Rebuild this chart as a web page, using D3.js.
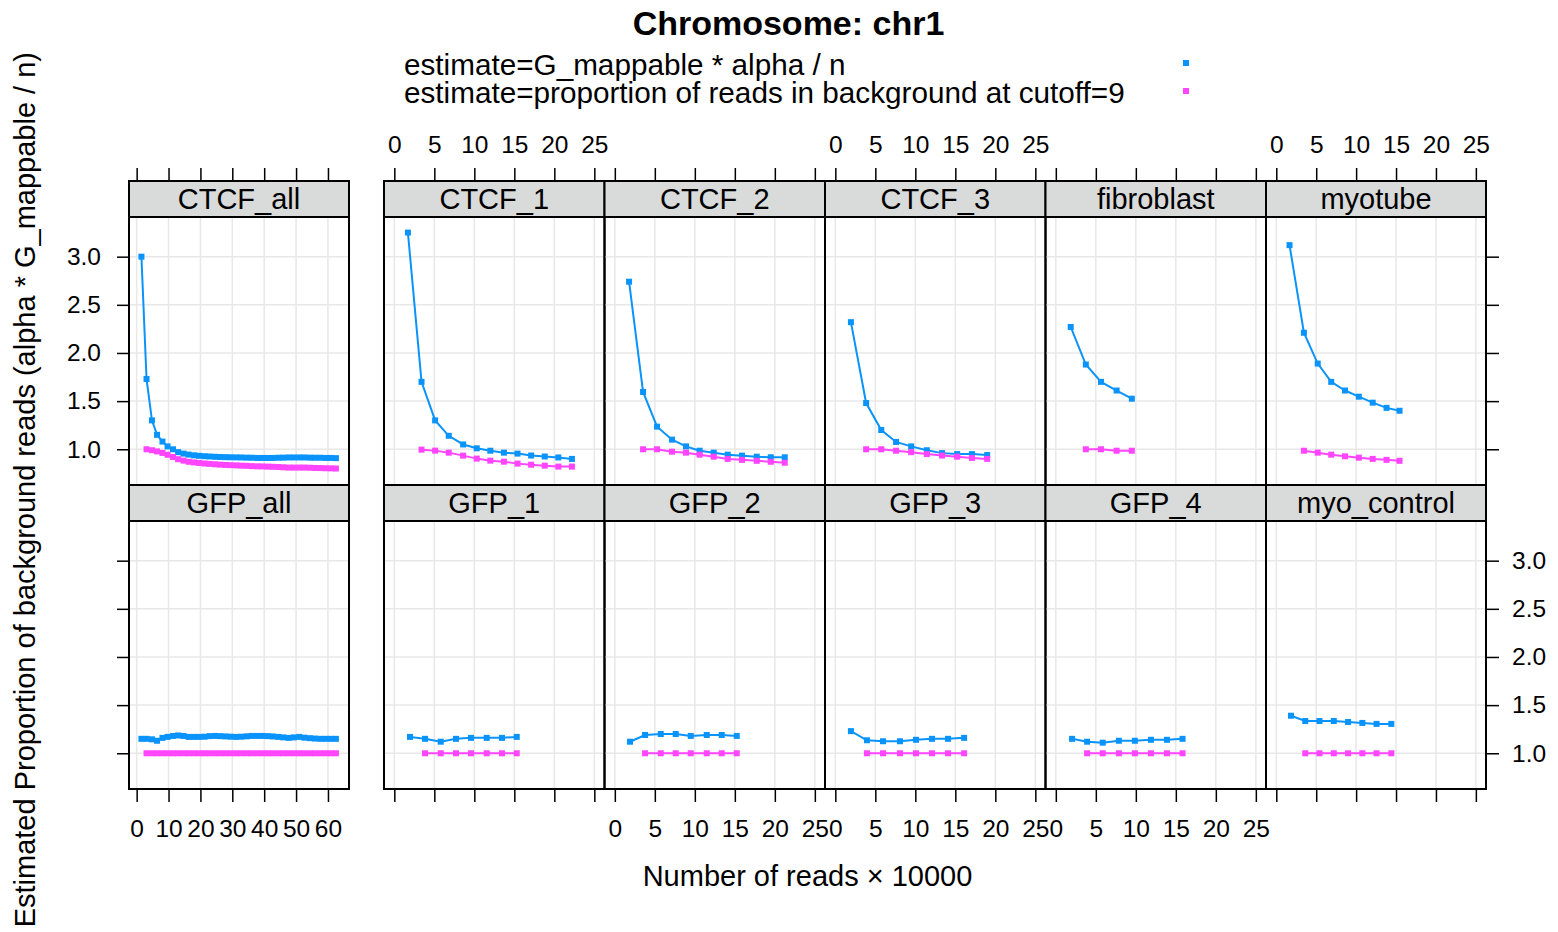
<!DOCTYPE html>
<html>
<head>
<meta charset="utf-8">
<script src="https://cdn.jsdelivr.net/npm/d3@7"></script>
<style>
  body { margin: 0; background: #fff; }
  svg { display: block; font-family: 'Liberation Sans', Arial, Helvetica, sans-serif; }
</style>
</head>
<body>
<svg id="chart" width="1558" height="932"></svg>
<script>
// panels in lattice order: top row then bottom row
const panelNames = [
  'CTCF_all', 'CTCF_1', 'CTCF_2', 'CTCF_3', 'fibroblast', 'myotube',
  'GFP_all', 'GFP_1', 'GFP_2', 'GFP_3', 'GFP_4', 'myo_control'
]

// number of reads (x 10000) for each panel
const allX = [1.5, 3.1, 4.8, 6.4, 8.1, 9.7, 11.4, 13.0, 14.7, 16.3, 18.0, 19.6, 21.3, 22.9,
  24.6, 26.2, 27.9, 29.5, 31.2, 32.8, 34.5, 36.1, 37.8, 39.4, 41.1, 42.7, 44.4, 46.0, 47.7,
  49.3, 51.0, 52.6, 54.3, 55.9, 57.6, 59.2, 60.9, 62.5]
const readsX = [
  allX,
  [1.7, 3.4, 5.1, 6.8, 8.6, 10.3, 12.0, 13.7, 15.4, 17.1, 18.8, 20.5, 22.2],
  [1.78, 3.53, 5.28, 7.15, 8.9, 10.6, 12.36, 14.11, 15.9, 17.74, 19.49, 21.24],
  [1.95, 3.85, 5.74, 7.59, 9.48, 11.44, 13.34, 15.23, 17.08, 18.98],
  [1.86, 3.75, 5.65, 7.6, 9.5],
  [1.66, 3.46, 5.19, 6.88, 8.61, 10.34, 12.08, 13.81, 15.44],
  allX,
  [1.96, 3.84, 5.8, 7.71, 9.59, 11.55, 13.46, 15.3],
  [1.9, 3.78, 5.74, 7.61, 9.49, 11.49, 13.36, 15.24],
  [1.95, 3.95, 5.96, 8.08, 10.08, 12.09, 14.09, 16.1],
  [2.03, 3.91, 5.86, 7.88, 9.88, 11.89, 13.89, 15.84],
  [1.84, 3.63, 5.41, 7.2, 8.99, 10.78, 12.56, 14.41]
]

// estimate = G_mappable * alpha / n  (one value per x)
const alphaEstimate = [
  [3.00, 1.73, 1.30, 1.15, 1.08, 1.03, 1.00, 0.97, 0.955, 0.945, 0.937, 0.932, 0.928, 0.925,
    0.922, 0.92, 0.918, 0.917, 0.916, 0.915, 0.913, 0.912, 0.91, 0.91, 0.91, 0.91, 0.912, 0.913,
    0.915, 0.915, 0.915, 0.915, 0.913, 0.912, 0.912, 0.91, 0.91, 0.908],
  [3.25, 1.70, 1.30, 1.14, 1.05, 1.01, 0.985, 0.965, 0.955, 0.935, 0.925, 0.915, 0.90],
  [2.74, 1.595, 1.235, 1.10, 1.03, 0.985, 0.965, 0.944, 0.934, 0.923, 0.917, 0.917],
  [2.32, 1.48, 1.20, 1.076, 1.03, 0.99, 0.96, 0.95, 0.95, 0.94],
  [2.27, 1.88, 1.70, 1.61, 1.525],
  [3.12, 2.21, 1.89, 1.70, 1.61, 1.546, 1.484, 1.43, 1.40],
  [1.15, 1.15, 1.145, 1.13, 1.16, 1.17, 1.18, 1.185, 1.18, 1.17, 1.17, 1.17, 1.172, 1.178,
    1.18, 1.178, 1.175, 1.172, 1.17, 1.172, 1.176, 1.18, 1.18, 1.18, 1.178, 1.175, 1.17, 1.165,
    1.16, 1.165, 1.17, 1.162, 1.157, 1.153, 1.15, 1.15, 1.15, 1.15],
  [1.17, 1.15, 1.12, 1.15, 1.16, 1.16, 1.16, 1.17],
  [1.12, 1.19, 1.20, 1.20, 1.18, 1.19, 1.19, 1.18],
  [1.23, 1.135, 1.125, 1.125, 1.14, 1.15, 1.15, 1.16],
  [1.15, 1.12, 1.11, 1.13, 1.13, 1.14, 1.14, 1.15],
  [1.39, 1.335, 1.335, 1.335, 1.325, 1.315, 1.305, 1.305]
]

// estimate = proportion of reads in background at cutoff=9 (starts at the 2nd x)
const backgroundEstimate = [
  [1.00, 0.99, 0.978, 0.962, 0.943, 0.92, 0.897, 0.882, 0.87, 0.863, 0.858, 0.852, 0.848, 0.844,
    0.84, 0.837, 0.835, 0.833, 0.83, 0.828, 0.825, 0.823, 0.822, 0.82, 0.818, 0.816, 0.813,
    0.81, 0.81, 0.81, 0.81, 0.808, 0.806, 0.805, 0.803, 0.802, 0.80],
  [0.996, 0.986, 0.965, 0.934, 0.903, 0.882, 0.871, 0.851, 0.84, 0.83, 0.82, 0.82],
  [1.0, 1.0, 0.975, 0.965, 0.944, 0.923, 0.90, 0.89, 0.88, 0.87, 0.86],
  [1.0, 1.0, 0.985, 0.97, 0.95, 0.935, 0.923, 0.91, 0.90],
  [1.0, 1.0, 0.985, 0.985],
  [0.985, 0.965, 0.944, 0.927, 0.913, 0.90, 0.89, 0.88],
  [1, 1, 1, 1, 1, 1, 1, 1, 1, 1, 1, 1, 1, 1, 1, 1, 1, 1, 1, 1, 1, 1, 1, 1, 1, 1, 1, 1, 1, 1,
    1, 1, 1, 1, 1, 1, 1],
  [1, 1, 1, 1, 1, 1, 1],
  [1, 1, 1, 1, 1, 1, 1],
  [1, 1, 1, 1, 1, 1, 1],
  [1, 1, 1, 1, 1, 1, 1],
  [1, 1, 1, 1, 1, 1, 1]
]

const xTicksAll = [0, 10, 20, 30, 40, 50, 60]
const xTicksSample = [0, 5, 10, 15, 20, 25]
const yTicks = [1.0, 1.5, 2.0, 2.5, 3.0]
const legendLabels = [
  'estimate=G_mappable * alpha / n',
  'estimate=proportion of reads in background at cutoff=9'
]
const seriesColors = ['#0a94fb', '#ff45ff']

const svg = d3.select('#chart')
svg.append('rect').attr('width', 1558).attr('height', 932).attr('fill', '#fff')

// layout (lattice-like)
const colLeft = [129, 384, 604.5, 825, 1045.5, 1266]
const colWidth = [220, 220.5, 220.5, 220.5, 220.5, 220]
const stripTop = [181, 485]
const stripH = 36
const panelH = 268
const tickLen = 13
const gridColor = '#e8e8e8'

const tickFont = 24.5
const labelFont = 29

// title and key
svg.append('text')
  .attr('x', 788.5).attr('y', 35)
  .attr('text-anchor', 'middle')
  .attr('font-size', 34).attr('font-weight', 'bold')
  .text('Chromosome: chr1')

// both key lines in one text so they stack tightly like the original
const keyText = svg.append('text')
  .attr('font-size', 29.7)
legendLabels.forEach((label, i) => {
  keyText.append('tspan')
    .attr('x', 404).attr('y', 75 + i * 28)
    .text(label)
  svg.append('rect')
    .attr('x', 1183).attr('y', 60 + i * 28)
    .attr('width', 6).attr('height', 6)
    .attr('fill', seriesColors[i])
})

// axis titles
svg.append('text')
  .attr('x', 807.5).attr('y', 886)
  .attr('text-anchor', 'middle')
  .attr('font-size', labelFont)
  .text('Number of reads \u00d7 10000')

// kept just inside the page so the whole label stays readable
svg.append('text')
  .attr('transform', 'translate(35,52) rotate(-90)')
  .attr('text-anchor', 'end')
  .attr('font-size', 29)
  .text('Estimated Proportion of background reads (alpha * G_mappable / n)')

function styleAxis (g) {
  g.select('.domain').remove()
  g.selectAll('.tick line').attr('stroke', '#000').attr('stroke-width', 1.5)
  g.selectAll('.tick text')
    .attr('fill', '#000')
    .attr('font-size', tickFont)
    .attr('font-family', "'Liberation Sans', Arial, sans-serif")
}

panelNames.forEach((name, i) => {
  const row = Math.floor(i / 6)
  const col = i % 6
  const left = colLeft[col]
  const width = colWidth[col]
  const top = stripTop[row] + stripH
  const bottom = top + panelH

  const x = d3.scaleLinear()
    .domain(col === 0 ? [-2.4, 66.6] : [-1.29, 26.27])
    .range([left, left + width])
  const y = d3.scaleLinear()
    .domain([0.629, 3.412])
    .range([bottom, top])
  const xTicks = col === 0 ? xTicksAll : xTicksSample

  const g = svg.append('g')

  // grid
  g.selectAll('.vgrid').data(xTicks).join('line')
    .attr('x1', d => x(d)).attr('x2', d => x(d))
    .attr('y1', top).attr('y2', bottom)
    .attr('stroke', gridColor).attr('stroke-width', 1.5)
  g.selectAll('.hgrid').data(yTicks).join('line')
    .attr('x1', left).attr('x2', left + width)
    .attr('y1', d => y(d)).attr('y2', d => y(d))
    .attr('stroke', gridColor).attr('stroke-width', 1.5)

  // series
  const xs = readsX[i]
  const series = [
    alphaEstimate[i].map((v, k) => [xs[k], v]),
    backgroundEstimate[i].map((v, k) => [xs[k + 1], v])
  ]
  const line = d3.line().x(d => x(d[0])).y(d => y(d[1]))

  series.forEach((pts, s) => {
    g.append('path')
      .attr('d', line(pts))
      .attr('fill', 'none')
      .attr('stroke', seriesColors[s])
      .attr('stroke-width', 2)
    g.selectAll(null).data(pts).join('rect')
      .attr('x', d => x(d[0]) - 3).attr('y', d => y(d[1]) - 3)
      .attr('width', 6).attr('height', 6)
      .attr('fill', seriesColors[s])
  })

  // panel box
  g.append('rect')
    .attr('x', left).attr('y', top)
    .attr('width', width).attr('height', panelH)
    .attr('fill', 'none').attr('stroke', '#000').attr('stroke-width', 2)

  // strip
  g.append('rect')
    .attr('x', left).attr('y', stripTop[row])
    .attr('width', width).attr('height', stripH)
    .attr('fill', '#d9dada').attr('stroke', '#000').attr('stroke-width', 2)
  g.append('text')
    .attr('x', left + width / 2).attr('y', stripTop[row] + 28)
    .attr('text-anchor', 'middle')
    .attr('font-size', labelFont)
    .text(name)

  // x axes, alternating labels like lattice
  if (row === 0) {
    const labelled = col === 1 || col === 3 || col === 5
    svg.append('g')
      .attr('transform', `translate(0,${stripTop[0]})`)
      .call(d3.axisTop(x).tickValues(xTicks).tickSize(tickLen).tickSizeOuter(0)
        .tickPadding(15).tickFormat(labelled ? d3.format('d') : ''))
      .call(styleAxis)
  } else {
    const labelled = col === 0 || col === 2 || col === 3 || col === 4
    svg.append('g')
      .attr('transform', `translate(0,${bottom})`)
      .call(d3.axisBottom(x).tickValues(xTicks).tickSize(tickLen).tickSizeOuter(0)
        .tickPadding(18).tickFormat(labelled ? d3.format('d') : ''))
      .call(styleAxis)
  }

  // y axes
  if (col === 0) {
    svg.append('g')
      .attr('transform', `translate(${left},0)`)
      .call(d3.axisLeft(y).tickValues(yTicks).tickSize(12).tickSizeOuter(0)
        .tickPadding(16).tickFormat(row === 0 ? d3.format('.1f') : ''))
      .call(styleAxis)
  }
  if (col === 5) {
    svg.append('g')
      .attr('transform', `translate(${left + width},0)`)
      .call(d3.axisRight(y).tickValues(yTicks).tickSize(13).tickSizeOuter(0)
        .tickPadding(13).tickFormat(row === 1 ? d3.format('.1f') : ''))
      .call(styleAxis)
  }
})
</script>
</body>
</html>
